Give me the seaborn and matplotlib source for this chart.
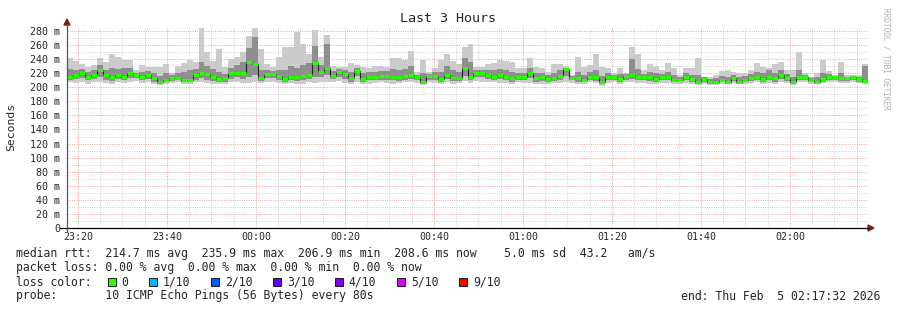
import numpy as np
import pandas as pd
import seaborn as sns
import matplotlib
matplotlib.use("Agg")
import matplotlib.pyplot as plt
from matplotlib.lines import Line2D
from matplotlib.patches import Polygon, Rectangle

# ---------------- data (ms), one value per 80 s step ----------------
median = [214, 217.5, 220, 215, 218, 224.6, 217, 214, 217, 215, 219.8, 217.5, 214, 217.5, 212.7, 208, 210.3, 213.6, 213.6, 210.3,
          210.3, 217, 220.8, 219, 214, 211.5, 212.7, 219.8, 221, 221, 236, 233, 212.7, 218.5, 218.5, 216, 212, 215, 214.5, 216,
          217.5, 235, 222, 227, 216.5, 222, 219, 212.7, 223.6, 211.5,
          215, 215, 216.5, 216.5, 215, 214, 216.5, 217.5, 214, 208, 216, 216, 212, 217.5, 213.6, 213.6, 228, 215,
          219.8, 219.8, 217.5, 215, 217.5, 215, 212.7, 215, 215, 219.8, 212.7, 214, 212, 212.7, 216.5, 225.6, 213.6, 212.7,
          210.3, 215, 214, 207,
          214, 214, 212, 216.5, 217.5, 214, 214, 214, 212, 214, 214, 210.3, 211, 214, 212, 208, 212, 208, 208, 211, 208, 213.6, 208,
          211, 213.6, 215, 212, 214, 212.7, 217.5, 213.6, 208, 215, 215, 211, 208, 212, 214, 214, 212.7, 212.7, 214, 212, 208.6]

rtt_max = [241, 238, 233, 229, 231.7, 241, 236, 247, 242.6, 238.8, 238.8, 224.6, 231.7, 229, 229, 229, 233, 220, 230, 234,
           238.8, 236, 284, 250.6, 238, 254, 229, 239.7, 242.6, 250.6, 273, 284, 254, 233, 229, 242.6, 257.7, 257.7, 279, 261.5,
           248, 281, 243.5, 274, 230, 229, 229, 235, 231, 229,
           228, 230.6, 230.6, 229, 241, 241, 239, 251.5, 222, 239, 222, 228, 239, 246.7, 237.6, 233, 257.7, 262,
           229, 229, 233, 234, 239, 237.6, 236, 227, 227, 241, 229, 227, 222, 233, 233, 230, 217.5, 243.6,
           229, 231.7, 246.7, 229,
           227, 220, 228, 220, 257.7, 246.7, 224.6, 233, 230.6, 224.6, 234, 227, 217.5, 228, 227, 241, 215, 215, 217.5, 223, 224.6, 222, 221,
           221, 224.6, 234, 229, 228, 233, 236, 224.6, 224.6, 250.6, 221, 214, 221, 239, 223, 217.5, 236, 217.5, 218, 217, 233]

rtt_min = [207, 206, 208, 205, 207, 208, 206, 205, 208, 206, 207, 209, 206, 207, 205, 203, 205, 206, 207, 204,
           205, 207, 208, 206, 205, 204, 205, 207, 208, 206, 206, 208, 206, 207, 208, 206, 204, 206, 205, 205,
           207, 206, 207, 208, 207, 209, 206, 205, 207, 204,
           205, 206, 207, 206, 205, 206, 207, 208, 206, 203, 207, 206, 205, 207, 205, 206, 209, 206,
           209, 208, 207, 208, 206, 206, 205, 207, 206, 206, 205, 205, 204, 206, 206, 208, 206, 205,
           204, 207, 206, 202,
           206, 207, 205, 207, 208, 206, 206, 205, 205, 206, 206, 204, 205, 206, 205, 203, 205, 203, 203, 205, 204, 206, 204,
           205, 206, 207, 205, 206, 205, 208, 206, 203, 207, 207, 205, 204, 206, 207, 207, 206, 206, 207, 206, 204]

rtt_q_hi = [226, 225, 226, 222, 224, 232, 225, 228, 226, 228, 228, 221, 222, 223, 220, 216, 220, 217, 221, 222,
            224, 226, 236, 230, 226, 222, 219, 228, 231, 236, 256, 272, 225, 224, 223, 225, 224, 230, 228, 232,
            235, 258, 232, 262, 223, 226, 224, 222, 228, 220,
            222, 222, 223, 223, 226, 224, 226, 230, 218, 220, 219, 222, 222, 230, 224, 222, 242, 236,
            224, 224, 225, 224, 226, 224, 222, 220, 221, 228, 220, 220, 217, 220, 224, 228, 216, 222,
            218, 222, 224, 216,
            220, 218, 219, 219, 240, 226, 219, 222, 220, 219, 222, 217, 215, 220, 218, 218, 214, 212, 213, 216, 215, 218, 214,
            216, 219, 222, 220, 224, 220, 224, 219, 215, 224, 218, 213, 214, 220, 219, 216, 220, 215, 216, 215, 230]

rtt_q_lo = [210, 212, 213, 210, 212, 214, 211, 209, 212, 210, 213, 213, 210, 212, 208, 205, 207, 209, 210, 207,
            207, 211, 213, 211, 209, 207, 208, 212, 214, 212, 214, 218, 209, 213, 213, 211, 207, 210, 209, 210,
            212, 214, 215, 218, 212, 215, 212, 208, 216, 207,
            210, 210, 211, 211, 210, 209, 211, 212, 210, 205, 211, 211, 208, 212, 209, 209, 216, 210,
            214, 214, 212, 211, 212, 210, 208, 211, 210, 213, 208, 209, 208, 209, 211, 216, 210, 208,
            207, 210, 209, 204,
            210, 210, 208, 211, 212, 210, 210, 209, 208, 210, 210, 207, 208, 210, 208, 205, 208, 205, 205, 208, 206, 209, 206,
            208, 209, 211, 208, 210, 208, 212, 209, 205, 210, 211, 208, 206, 208, 210, 210, 209, 209, 210, 208, 206]

y_ticks = [0, 20, 40, 60, 80, 100, 120, 140, 160, 180, 200, 220, 240, 260, 280]
y_tick_labels = ["0"] + [f"{v} m" for v in y_ticks[1:]]
x_tick_minutes = [20, 40, 60, 80, 100, 120, 140, 160, 180]   # minutes after 23:00
x_tick_labels = ["23:20", "23:40", "00:00", "00:20", "00:40", "01:00", "01:20", "01:40", "02:00"]
t_start, t_end = 17.53, 197.53   # 23:17:32 .. 02:17:32

loss_labels = ["0", "1/10", "2/10", "3/10", "4/10", "5/10", "9/10"]
loss_colors = ["#26ff00", "#00b8ff", "#0059ff", "#5e00ff", "#7e00ff", "#dd00ff", "#ff0000"]

legend_lines = [
    "median rtt:  214.7 ms avg  235.9 ms max  206.9 ms min  208.6 ms now    5.0 ms sd  43.2   am/s",
    "packet loss: 0.00 % avg  0.00 % max  0.00 % min  0.00 % now",
    "loss color:",
    "probe:       10 ICMP Echo Pings (56 Bytes) every 80s",
]
end_text = "end: Thu Feb  5 02:17:32 2026"

# ---------------- figure ----------------
sns.set_style("white")
MONO = ["DejaVu Sans Mono"]
plt.rcParams["font.family"] = MONO

W, H = 897, 310
fig = plt.figure(figsize=(W / 100, H / 100), dpi=100)
fig.patch.set_facecolor("white")

def fx(px):
    return px / W

def fy(py):
    return 1 - py / H

x0, x1, yb, yt = 67, 868, 228, 28
ax = fig.add_axes([fx(x0), fy(yb), fx(x1) - fx(x0), fy(yt) - fy(yb)])
ax.set_facecolor("white")
ymax = (yb - yt) / 0.7036
ax.set_xlim(t_start, t_end)
ax.set_ylim(0, ymax)

n = len(median)
edges = np.linspace(t_start, t_end, n + 1)
df = pd.DataFrame({"t": edges,
                   "median": median + [median[-1]],
                   "lo": rtt_min + [rtt_min[-1]],
                   "hi": rtt_max + [rtt_max[-1]],
                   "qlo": rtt_q_lo + [rtt_q_lo[-1]],
                   "qhi": rtt_q_hi + [rtt_q_hi[-1]]})

# grid
ax.set_yticks(y_ticks)
ax.set_yticks(np.arange(10, ymax, 20), minor=True)
ax.set_xticks(x_tick_minutes)
ax.set_xticks(np.arange(20, t_end, 5), minor=True)
ax.grid(which="minor", color="#d2d2d2", linestyle=(0, (1, 1.3)), linewidth=0.7, zorder=0)
ax.grid(which="major", color="#f2a0a0", linestyle=(0, (1, 1.3)), linewidth=0.7, zorder=0)
ax.set_axisbelow(True)

# smoke
ax.fill_between(df["t"], df["lo"], df["hi"], step="post", color="#cbcbcb", lw=0, zorder=2)
ax.fill_between(df["t"], df["qlo"], df["qhi"], step="post", color="#8e8e8e", lw=0, zorder=3)

# median: thin dark step line + green segments
sns.lineplot(data=df, x="t", y="median", drawstyle="steps-post", color="#222222",
             linewidth=0.8, ax=ax, zorder=4)
ax.hlines(median, edges[:-1], edges[1:], colors=loss_colors[0], linewidth=2.2, zorder=5,
          capstyle="butt")

ax.set_xlabel("")
ax.set_ylabel("")
ax.set_yticklabels(y_tick_labels)
ax.set_xticklabels(x_tick_labels)
for s in ax.spines.values():
    s.set_visible(False)
ax.tick_params(axis="y", which="major", length=2.5, width=0.6, color="#777777", pad=2.5, labelsize=7.2)
ax.tick_params(axis="y", which="minor", length=0)
ax.tick_params(axis="x", which="major", length=2, width=0.6, color="#cc6666", pad=3, labelsize=7.2, direction="in")
ax.tick_params(axis="x", which="minor", length=0)

# axes lines with arrows
fig.add_artist(Line2D([fx(60), fx(x1 + 1)], [fy(yb), fy(yb)], color="black", lw=0.9))
fig.add_artist(Line2D([fx(x0), fx(x0)], [fy(yb + 4), fy(24)], color="#555555", lw=0.9))
fig.add_artist(Polygon([[fx(x1), fy(yb - 3)], [fx(x1), fy(yb + 3)], [fx(x1 + 6), fy(yb)]],
                       closed=True, color="#7f1f1f", transform=fig.transFigure))
fig.add_artist(Polygon([[fx(x0 - 3), fy(25)], [fx(x0 + 3), fy(25)], [fx(x0), fy(19)]],
                       closed=True, color="#7f1f1f", transform=fig.transFigure))

# titles
fig.text(fx(448), fy(19), "Last 3 Hours", ha="center", va="center", fontsize=9.6)
fig.text(fx(11), fy(127), "Seconds", ha="center", va="center", rotation=90, fontsize=8.2)
fig.text(fx(886), fy(59), "RRDTOOL / TOBI OETIKER", ha="center", va="center", rotation=270,
         fontsize=5.6, color="#b0b0b0")

# legend block
line_y = [254, 268, 282, 296]
for txt, yy in zip(legend_lines, line_y):
    fig.text(fx(16), fy(yy), txt, ha="left", va="center", fontsize=8.3)
fig.text(fx(880), fy(296), end_text, ha="right", va="center", fontsize=8.3)

cw = 6.93
bx = 108
for lab, col in zip(loss_labels, loss_colors):
    fig.add_artist(Rectangle((fx(bx), fy(286)), fx(8), 8 / H, facecolor=col, edgecolor="black",
                             lw=0.6, transform=fig.transFigure))
    fig.text(fx(bx + 13.5), fy(282), lab, ha="left", va="center", fontsize=8.3)
    bx += 13.5 + cw * len(lab) + 3 * cw

fig.savefig("out.png", dpi=100, facecolor="white")
